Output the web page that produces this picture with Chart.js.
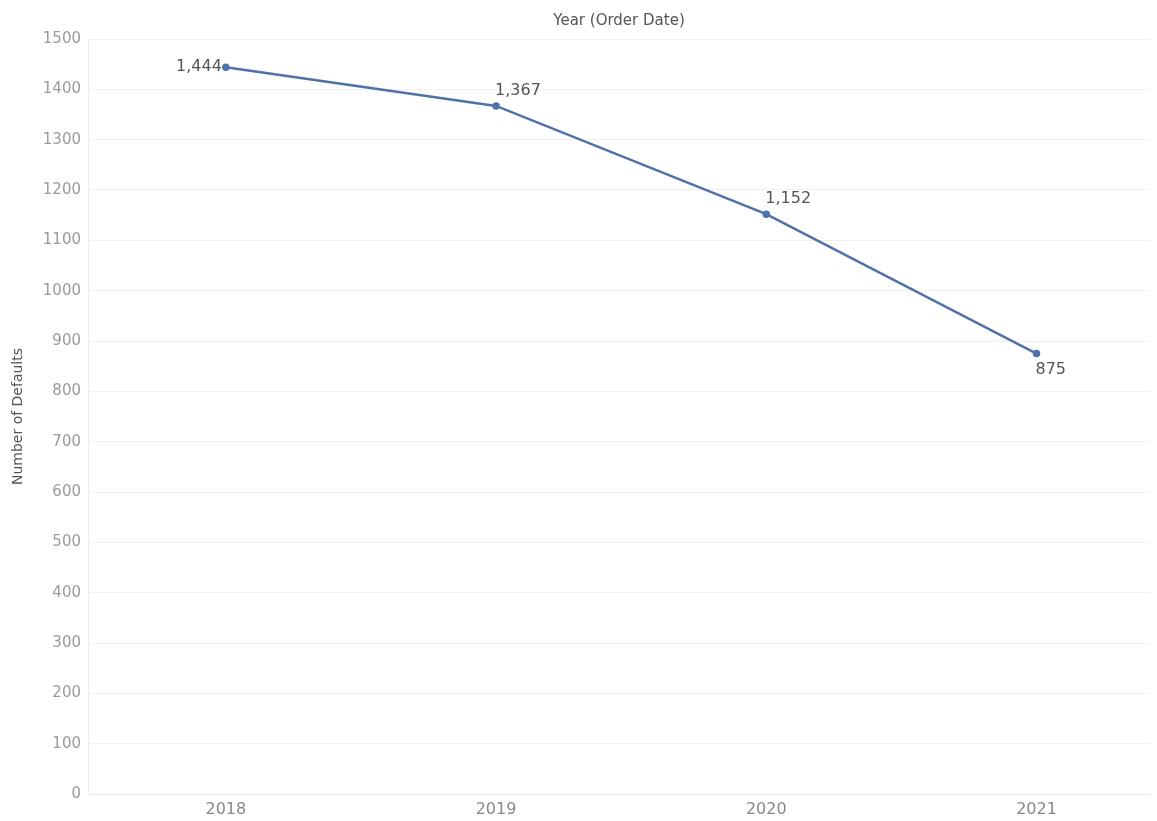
<!DOCTYPE html>
<html>
<head>
<meta charset="utf-8">
<script src="https://cdn.jsdelivr.net/npm/chart.js@4.4.1/dist/chart.umd.min.js"></script>
<style>
  html, body { margin: 0; padding: 0; background: #fff; }
  #wrap { width: 1157px; height: 821px; }
</style>
</head>
<body>
<div id="wrap"><canvas id="myChart"></canvas></div>
<script>
// chart data
const years = [2018, 2019, 2020, 2021];
const defaults = [1444, 1367, 1152, 875];
const labelSide = ['left', 'above', 'above', 'below'];
const yTicks = [0, 100, 200, 300, 400, 500, 600, 700, 800, 900, 1000, 1100, 1200, 1300, 1400, 1500];

const FONT = '"DejaVu Sans", sans-serif';
const lineColor = '#4f72a8';

// draws the value next to each point
const pointLabels = {
    id: 'pointLabels',
    afterDatasetsDraw(chart) {
        const ctx = chart.ctx;
        const meta = chart.getDatasetMeta(0);
        ctx.save();
        ctx.font = '16px ' + FONT;
        ctx.fillStyle = '#555';
        meta.data.forEach((pt, i) => {
            const txt = defaults[i].toLocaleString('en-US');
            if (labelSide[i] === 'left') {
                ctx.textAlign = 'right';
                ctx.textBaseline = 'middle';
                ctx.fillText(txt, pt.x - 4, pt.y);
            } else if (labelSide[i] === 'above') {
                ctx.textAlign = 'left';
                ctx.textBaseline = 'bottom';
                ctx.fillText(txt, pt.x - 1, pt.y - 7);
            } else {
                ctx.textAlign = 'left';
                ctx.textBaseline = 'top';
                ctx.fillText(txt, pt.x - 1, pt.y + 8);
            }
        });
        ctx.restore();
    }
};

const xMin = 2017.49;
const xMax = 2021.42;

const ctx = document.getElementById('myChart').getContext('2d');
const myChart = new Chart(ctx, {
    type: 'line',
    data: {
        datasets: [{
            label: 'Number of Defaults',
            data: years.map((y, i) => ({ x: y, y: defaults[i] })),
            borderColor: lineColor,
            backgroundColor: lineColor,
            borderWidth: 2.5,
            pointRadius: 2.5,
            pointHoverRadius: 2.5,
            fill: false,
            tension: 0
        }]
    },
    plugins: [pointLabels],
    options: {
        responsive: true,
        maintainAspectRatio: false,
        animation: false,
        layout: { padding: { top: 0, right: 7, bottom: 0, left: 0 } },
        plugins: {
            legend: { display: false },
            tooltip: { enabled: false }
        },
        scales: {
            x: {
                type: 'linear',
                position: 'bottom',
                min: xMin,
                max: xMax,
                afterBuildTicks: axis => { axis.ticks = years.map(v => ({ value: v })); },
                afterFit: axis => { axis.height = 27; },
                grid: { display: false, drawTicks: false },
                border: { display: true, color: '#ececec', width: 1 },
                ticks: {
                    color: '#888',
                    font: { family: FONT, size: 16 },
                    padding: 6,
                    maxRotation: 0,
                    callback: v => String(v)
                }
            },
            xTop: {
                type: 'linear',
                position: 'top',
                min: xMin,
                max: xMax,
                afterFit: axis => { axis.height = 39; },
                grid: { display: false, drawTicks: false },
                border: { display: false },
                ticks: { display: false },
                title: {
                    display: true,
                    text: 'Year (Order Date)',
                    color: '#555',
                    font: { family: FONT, size: 15 },
                    padding: { top: 12, bottom: 0 }
                }
            },
            y: {
                min: 0,
                max: 1500,
                afterBuildTicks: axis => { axis.ticks = yTicks.map(v => ({ value: v })); },
                afterFit: axis => { axis.width = 88; },
                grid: { color: '#f1f1f1', lineWidth: 1, drawTicks: false },
                border: { display: true, color: '#ececec', width: 1 },
                ticks: {
                    color: '#9a9a9a',
                    font: { family: FONT, size: 15 },
                    padding: 7,
                    callback: v => String(v)
                },
                title: {
                    display: true,
                    text: 'Number of Defaults',
                    color: '#555',
                    font: { family: FONT, size: 14 },
                    padding: { top: 10, bottom: 0 }
                }
            }
        }
    }
});
</script>
</body>
</html>
